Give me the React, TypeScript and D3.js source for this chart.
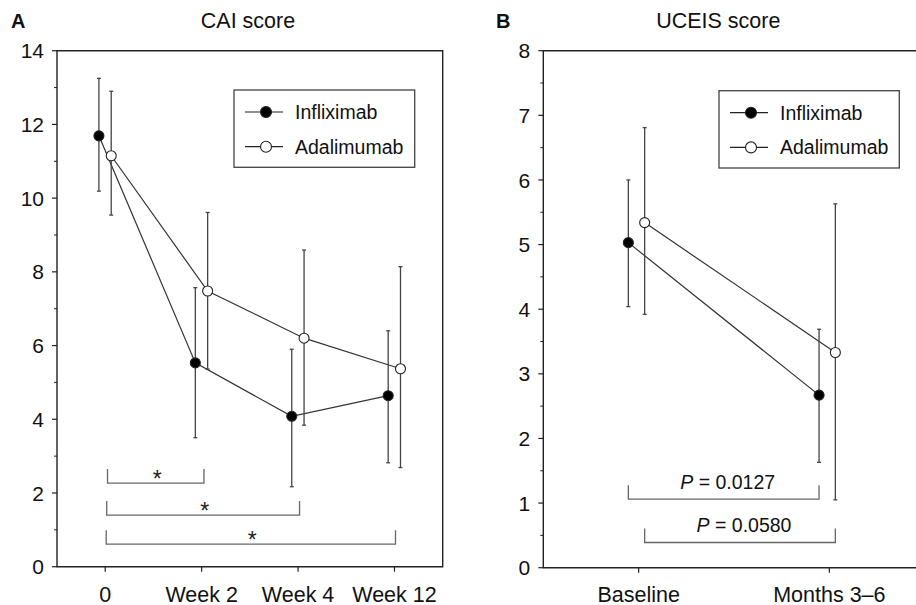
import * as d3 from "d3";

const FONT = '"Liberation Sans", Arial, Helvetica, sans-serif';

// Panel A - CAI score
const caiCategories = ["0", "Week 2", "Week 4", "Week 12"];
const caiInfliximab = [11.69, 5.53, 4.08, 4.64];
const caiInfliximabHi = [13.25, 7.57, 5.9, 6.4];
const caiInfliximabLo = [10.19, 3.5, 2.17, 2.82];
const caiAdalimumab = [11.15, 7.48, 6.2, 5.37];
const caiAdalimumabHi = [12.9, 9.61, 8.59, 8.14];
const caiAdalimumabLo = [9.54, 5.36, 3.84, 2.69];
const caiTicks = [0, 2, 4, 6, 8, 10, 12, 14];
const caiBrackets = [
  { from: 0, to: 1, y: 2.27, label: "*" },
  { from: 0, to: 2, y: 1.4, label: "*" },
  { from: 0, to: 3, y: 0.61, label: "*" },
];

// Panel B - UCEIS score
const uceisCategories = ["Baseline", "Months 3\u20136"];
const uceisInfliximab = [5.03, 2.67];
const uceisInfliximabHi = [6.0, 3.69];
const uceisInfliximabLo = [4.04, 1.63];
const uceisAdalimumab = [5.34, 3.33];
const uceisAdalimumabHi = [6.81, 5.63];
const uceisAdalimumabLo = [3.92, 1.05];
const uceisTicks = [0, 1, 2, 3, 4, 5, 6, 7, 8];
const uceisBrackets = [
  { from: 0, to: 1, y: 1.06, label: "0.0127" },
  { from: 0, to: 1, y: 0.39, label: "0.0580" },
];

const legendNames = ["Infliximab", "Adalimumab"];

type Bracket = { from: number; to: number; y: number; label: string };

type PanelProps = {
  letter: string;
  letterX: number;
  title: string;
  titleX: number;
  left: number;
  right: number;
  top: number;
  bottom: number;
  yMax: number;
  ticks: number[];
  minorStep: number;
  categories: string[];
  series: { mean: number[]; hi: number[]; lo: number[]; filled: boolean; dx: number }[];
  brackets: Bracket[];
  bracketDx: number[];
  italicP: boolean;
  legend: { x: number; y: number; w: number; h: number };
};

function Panel(p: PanelProps) {
  const y = d3.scaleLinear().domain([0, p.yMax]).range([p.bottom, p.top]);
  const x = d3.scalePoint<string>().domain(p.categories).range([p.left, p.right]).padding(0.5);
  const minor = d3.range(p.minorStep, p.yMax, p.minorStep * 2);
  const line = d3.line<[number, number]>().x(d => d[0]).y(d => d[1]);
  const axisColor = "#222";
  const leg = 14;

  return (
    <g fontFamily={FONT}>
      <text x={p.letterX} y={28} fontSize={20} fontWeight={700} fill="#111">{p.letter}</text>
      <text x={p.titleX} y={28} fontSize={21.5} textAnchor="middle" fill="#111">{p.title}</text>

      {/* frame */}
      <path
        d={`M${p.left},${p.bottom}V${p.top}H${p.right}V${p.bottom}Z`}
        fill="none"
        stroke={axisColor}
        strokeWidth={1.4}
      />
      {p.ticks.map(t => (
        <g key={`yt${t}`}>
          <line x1={p.left - 5} x2={p.left} y1={y(t)} y2={y(t)} stroke={axisColor} strokeWidth={1.2} />
          <text x={p.left - 13} y={y(t)} dy="0.36em" fontSize={21} textAnchor="end" fill="#111">{t}</text>
        </g>
      ))}
      {minor.map(t => (
        <line key={`ym${t}`} x1={p.left - 3} x2={p.left} y1={y(t)} y2={y(t)} stroke={axisColor} strokeWidth={1} />
      ))}
      {p.categories.map(c => (
        <g key={`xt${c}`}>
          <line x1={x(c)!} x2={x(c)!} y1={p.bottom} y2={p.bottom + 5} stroke={axisColor} strokeWidth={1.2} />
          <text x={x(c)!} y={601.5} fontSize={21.5} textAnchor="middle" fill="#111">{c}</text>
        </g>
      ))}

      {/* significance brackets */}
      {p.brackets.map((b, i) => {
        const x1 = x(p.categories[b.from])! + p.bracketDx[i];
        const x2 = x(p.categories[b.to])! + p.bracketDx[i];
        const yy = y(b.y);
        const mid = (x1 + x2) / 2;
        return (
          <g key={`br${i}`}>
            <path
              d={`M${x1},${yy - leg}V${yy}H${x2}V${yy - leg}`}
              fill="none"
              stroke="#666"
              strokeWidth={1.3}
            />
            {p.italicP ? (
              <text x={mid + 4} y={yy - 10} fontSize={19.5} textAnchor="middle" fill="#111">
                <tspan fontStyle="italic">P</tspan> = {b.label}
              </text>
            ) : (
              <text x={mid + 1.5} y={yy + 3.5} fontSize={23} textAnchor="middle" fill="#222">{b.label}</text>
            )}
          </g>
        );
      })}

      {/* lines */}
      {p.series.map((s, si) => (
        <path
          key={`ln${si}`}
          d={line(s.mean.map((v, i) => [x(p.categories[i])! + s.dx, y(v)]))!}
          fill="none"
          stroke="#333"
          strokeWidth={1.2}
        />
      ))}

      {/* error bars */}
      {p.series.map((s, si) =>
        s.mean.map((_, i) => {
          const cx = x(p.categories[i])! + s.dx;
          return (
            <g key={`eb${si}-${i}`} stroke="#444" strokeWidth={1.3}>
              <line x1={cx} x2={cx} y1={y(s.hi[i])} y2={y(s.lo[i])} />
              <line x1={cx - 2} x2={cx + 2} y1={y(s.hi[i])} y2={y(s.hi[i])} />
              <line x1={cx - 2} x2={cx + 2} y1={y(s.lo[i])} y2={y(s.lo[i])} />
            </g>
          );
        })
      )}

      {/* markers */}
      {p.series.map((s, si) =>
        s.mean.map((v, i) => (
          <circle
            key={`mk${si}-${i}`}
            cx={x(p.categories[i])! + s.dx}
            cy={y(v)}
            r={5}
            fill={s.filled ? "#000" : "#fff"}
            stroke="#222"
            strokeWidth={1.1}
          />
        ))
      )}

      {/* legend */}
      <rect
        x={p.legend.x}
        y={p.legend.y}
        width={p.legend.w}
        height={p.legend.h}
        fill="#fff"
        stroke="#444"
        strokeWidth={1.3}
      />
      {legendNames.map((name, i) => {
        const ly = p.legend.y + 22 + i * 34.7;
        const lx = p.legend.x + 11;
        return (
          <g key={`lg${name}`}>
            <line x1={lx} x2={lx + 38} y1={ly} y2={ly} stroke="#222" strokeWidth={1.2} />
            <circle cx={lx + 21} cy={ly} r={5.5} fill={i === 0 ? "#000" : "#fff"} stroke="#222" strokeWidth={1.1} />
            <text x={lx + 50} y={ly} dy="0.36em" fontSize={19.5} fill="#111">{name}</text>
          </g>
        );
      })}
    </g>
  );
}

export default function App() {
  return (
    <svg
      width={916}
      height={605}
      style={{ position: "absolute", left: 0, top: 0, background: "#fff" }}
    >
      <rect width={916} height={605} fill="#fff" />
      <Panel
        letter="A"
        letterX={11}
        title="CAI score"
        titleX={248}
        left={57}
        right={442.7}
        top={50.7}
        bottom={566.7}
        yMax={14}
        ticks={caiTicks}
        minorStep={1}
        categories={caiCategories}
        series={[
          { mean: caiInfliximab, hi: caiInfliximabHi, lo: caiInfliximabLo, filled: true, dx: -6.3 },
          { mean: caiAdalimumab, hi: caiAdalimumabHi, lo: caiAdalimumabLo, filled: false, dx: 6 },
        ]}
        brackets={caiBrackets}
        bracketDx={[2.3, 1.5, 1]}
        italicP={false}
        legend={{ x: 234, y: 90, w: 180.7, h: 77.3 }}
      />
      <Panel
        letter="B"
        letterX={496}
        title="UCEIS score"
        titleX={718.3}
        left={543.3}
        right={924.7}
        top={50.7}
        bottom={567.7}
        yMax={8}
        ticks={uceisTicks}
        minorStep={0.5}
        categories={uceisCategories}
        series={[
          { mean: uceisInfliximab, hi: uceisInfliximabHi, lo: uceisInfliximabLo, filled: true, dx: -10.3 },
          { mean: uceisAdalimumab, hi: uceisAdalimumabHi, lo: uceisAdalimumabLo, filled: false, dx: 6 },
        ]}
        brackets={uceisBrackets}
        bracketDx={[-10.3, 6]}
        italicP={true}
        legend={{ x: 719, y: 90.7, w: 180.3, h: 77.3 }}
      />
    </svg>
  );
}
